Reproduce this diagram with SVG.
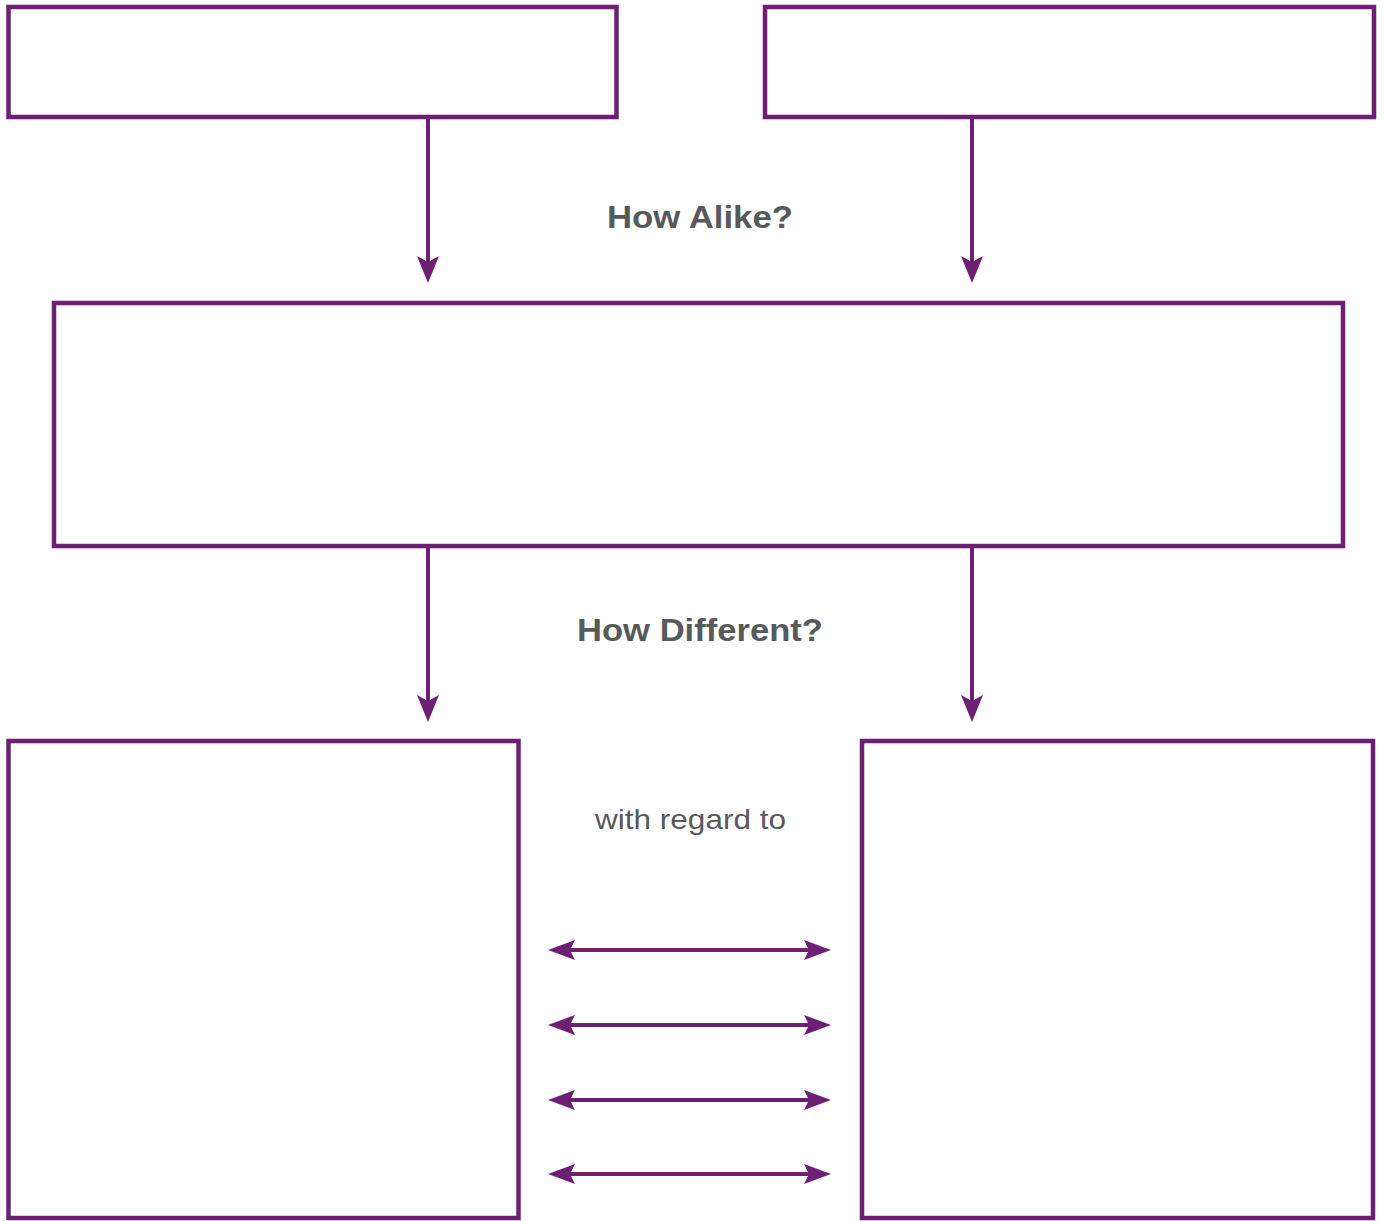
<svg xmlns="http://www.w3.org/2000/svg" width="1385" height="1221" viewBox="0 0 1385 1221">
<style>
.box{fill:#fff;stroke:#6c1f73;stroke-width:4.5}
.ln{stroke:#6c1f73;stroke-width:4;fill:none}
.hd{fill:#6c1f73}
.t{font-family:"Liberation Sans",Arial,sans-serif;fill:#58595b;text-anchor:middle}
</style>
<rect width="1385" height="1221" fill="#fff"/>
<g id="connectors">
<line class="ln" x1="428" y1="117" x2="428" y2="262"/>
<path class="hd" d="M428,283 L417,256 L428,262 L439,256 Z"/>
<line class="ln" x1="972" y1="117" x2="972" y2="262"/>
<path class="hd" d="M972,283 L961,256 L972,262 L983,256 Z"/>
<line class="ln" x1="428" y1="546" x2="428" y2="701"/>
<path class="hd" d="M428,722 L417,695 L428,701 L439,695 Z"/>
<line class="ln" x1="972" y1="546" x2="972" y2="701"/>
<path class="hd" d="M972,722 L961,695 L972,701 L983,695 Z"/>
<g id="double-arrows">
<line class="ln" x1="568" y1="950" x2="812" y2="950"/>
<path class="hd" d="M548,950 L575,940 L570,950 L575,960 Z"/>
<path class="hd" d="M831,950 L804,940 L809,950 L804,960 Z"/>
<line class="ln" x1="568" y1="1025" x2="812" y2="1025"/>
<path class="hd" d="M548,1025 L575,1015 L570,1025 L575,1035 Z"/>
<path class="hd" d="M831,1025 L804,1015 L809,1025 L804,1035 Z"/>
<line class="ln" x1="568" y1="1100" x2="812" y2="1100"/>
<path class="hd" d="M548,1100 L575,1090 L570,1100 L575,1110 Z"/>
<path class="hd" d="M831,1100 L804,1090 L809,1100 L804,1110 Z"/>
<line class="ln" x1="568" y1="1174" x2="812" y2="1174"/>
<path class="hd" d="M548,1174 L575,1164 L570,1174 L575,1184 Z"/>
<path class="hd" d="M831,1174 L804,1164 L809,1174 L804,1184 Z"/>
</g>
</g>
<g id="box-top-left"><rect class="box" x="8.5" y="7" width="608" height="110"/></g>
<g id="box-top-right"><rect class="box" x="765" y="7" width="609" height="110"/></g>
<g id="box-middle"><rect class="box" x="54" y="303" width="1289" height="243"/></g>
<g id="box-bottom-left"><rect class="box" x="8.5" y="741" width="510" height="477"/></g>
<g id="box-bottom-right"><rect class="box" x="862" y="741" width="511" height="477"/></g>
<g id="labels">
<text class="t" x="700" y="228" font-size="32" font-weight="bold" textLength="186" lengthAdjust="spacingAndGlyphs">How Alike?</text>
<text class="t" x="700" y="641" font-size="32" font-weight="bold" textLength="246" lengthAdjust="spacingAndGlyphs">How Different?</text>
<text class="t" x="690.5" y="829" font-size="28" textLength="191" lengthAdjust="spacingAndGlyphs">with regard to</text>
</g>
</svg>
